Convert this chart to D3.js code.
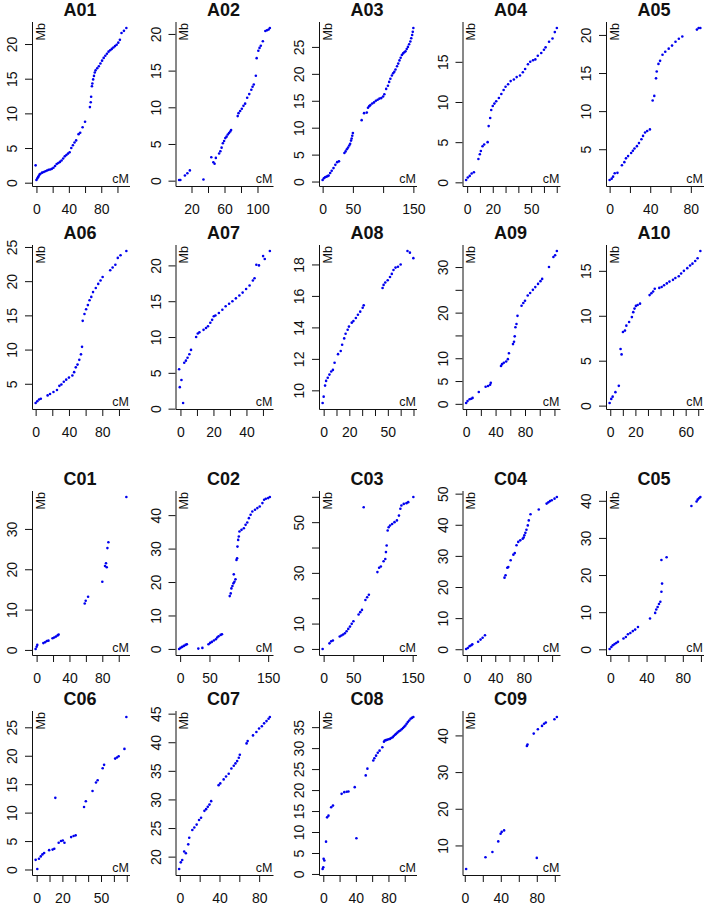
<!DOCTYPE html>
<html>
<head>
<meta charset="utf-8">
<script src="https://cdn.jsdelivr.net/npm/d3@7"></script>
<style>
  body { margin: 0; background: #fff; }
  text { font-family: "Liberation Sans", Arial, sans-serif; fill: #111; }
</style>
</head>
<body>
<div id="chart"></div>
<script>
// genetic (cM) vs physical (Mb) positions, one array per chromosome
const A01 = [[-1,2.5],[0,0.4],[1,0.6],[2,0.8],[3,1.0],[4,1.2],[5,1.3],[7,1.45],[9,1.55],[11,1.65],[13,1.75],[15,1.85],[17,1.9],[19,2.0],[21,2.15],[23,2.4],[25,2.7],[27,2.85],[29,3.0],[31,3.2],[33,3.5],[35,3.8],[37,4.0],[39,4.2],[41,4.4],[43,5.0],[45,5.4],[47,5.8],[49,6.1],[52,7.0],[54,7.2],[57,8.0],[60,8.8],[66,10.9],[67,11.6],[67.5,12.4],[68.5,13.9],[69,14.3],[70,14.9],[71,15.4],[72,15.9],[73,16.2],[75,16.5],[77,16.8],[79,17.2],[81,17.6],[83,18.0],[85,18.3],[87,18.6],[89,18.9],[91,19.1],[93,19.3],[95,19.5],[97,19.7],[99,19.9],[101,20.2],[103,20.6],[105,21.6],[108,21.9],[111,22.3]];
const A02 = [[5,0.1],[6.5,0.1],[12,0.7],[15,1.0],[18,1.4],[34.5,0.15],[44,3.2],[46.5,2.5],[48,2.3],[49.5,3.1],[53.5,3.7],[55,4.0],[56.5,4.5],[58,5.1],[59.5,5.4],[61,5.8],[62.5,6.0],[64,6.3],[65.5,6.5],[67,6.7],[68,6.9],[76,8.8],[77,9.2],[79,9.5],[81,9.8],[83,10.2],[85,10.5],[87.5,11.3],[90,11.8],[92.5,12.4],[94,12.8],[95.5,13.1],[98,14.3],[99,16.7],[101,17.7],[102.5,18.1],[104,18.4],[106.5,19.0],[109.5,20.4],[111.5,20.5],[113.5,20.6],[115,20.8]];
const A03 = [[0,0.3],[2,0.6],[4,0.8],[6,0.9],[8,1.0],[10,1.1],[12.5,1.6],[15,2.0],[18,2.5],[21,3.1],[24,3.6],[27,3.75],[36,5.3],[38,5.6],[40,6.0],[42,6.3],[44,6.7],[45.5,7.0],[47,7.6],[48,8.0],[49,8.5],[50,9.0],[64.5,11.4],[68.5,12.7],[73,12.8],[75,13.7],[77,14.0],[79,14.2],[82,14.5],[85,14.7],[88,15.0],[91,15.2],[94,15.4],[97,15.5],[100,15.8],[102,16.2],[105,17.2],[108,17.8],[110,18.5],[112,19.1],[114.5,19.7],[116.5,20.1],[118.5,20.4],[120.5,20.8],[123,21.4],[125,21.9],[127,22.5],[129,23.0],[131,23.5],[133,23.8],[135,24.0],[137,24.2],[139,24.6],[141,25.0],[143,25.5],[145,26.0],[146.5,26.6],[148,27.2],[149,27.8],[150,28.5]];
const A04 = [[-0.8,0.3],[0.5,0.6],[2,0.8],[3.5,1.1],[5.3,1.25],[8.8,2.9],[9.9,3.5],[10.7,3.9],[12,4.5],[13.3,4.7],[16,5.0],[16.8,7.0],[18,8.0],[18.8,9.0],[20,9.5],[21.3,9.8],[22.7,10.1],[24.8,10.5],[26.7,11.0],[28.5,11.5],[30,11.9],[32,12.2],[34,12.6],[36.5,12.8],[38.7,13.1],[41.3,13.3],[43.5,13.7],[45.3,14.1],[47.5,14.7],[49.3,15.0],[51.5,15.2],[53.3,15.3],[55.2,15.75],[57.9,16.1],[60,16.5],[61.3,16.8],[64,17.5],[66.7,17.9],[68.5,18.7],[70.1,19.2]];
const A05 = [[0,0.97],[2,1.14],[3.4,1.4],[5,1.84],[7.7,1.9],[12.1,2.9],[14.5,3.3],[16.1,3.8],[18.2,4.1],[21.2,4.5],[22.9,4.8],[24.5,5.1],[26.9,5.4],[28.9,5.8],[31.3,6.3],[32.9,6.75],[34.9,7.2],[37,7.4],[39.7,7.6],[42.4,11.4],[44,12.0],[45.7,14.3],[46.4,15.2],[48.1,16.2],[49.7,16.6],[52.1,17.4],[54.8,17.8],[58.2,18.2],[61.5,18.6],[64.9,19.1],[68.2,19.5],[71.6,19.8],[86,20.7],[87.7,20.9],[89.4,20.9]];
const A06 = [[0,2.2],[2,2.45],[4.1,2.7],[6.2,2.8],[14.4,3.3],[17.3,3.5],[21.4,3.8],[25.6,4.1],[28.5,4.7],[30.9,4.9],[33.8,5.3],[36.7,5.6],[40,5.9],[44.1,6.2],[46.2,6.7],[48.2,7.4],[50.3,7.8],[52.4,8.5],[54.4,9.3],[55.7,10.4],[56.5,14.2],[58.6,15.2],[60.6,15.9],[62.7,16.5],[64.7,17.2],[66.8,17.7],[68.9,18.4],[72.2,19],[75.1,19.6],[77.9,20.1],[80.4,20.6],[89.5,21.6],[92.4,22],[95.7,22.4],[98.6,23.4],[101.9,23.8],[108.9,24.4]];
const A07 = [[-0.8,5.5],[-0.4,3.0],[0.6,4.0],[1.6,0.8],[2.3,6.4],[3.3,6.7],[4.3,7.1],[5.4,7.6],[6.4,8.2],[9.5,10.0],[10.5,10.5],[11.5,10.65],[14,11.0],[15.5,11.25],[16.7,11.5],[18.1,12.0],[19.2,12.4],[20.2,12.9],[21.2,13.0],[23.3,13.35],[25.4,13.8],[27.4,14.3],[29.5,14.65],[31.5,15],[33.6,15.4],[35.7,15.8],[37.7,16.2],[39.8,16.7],[41.9,17.2],[43.9,17.9],[44.9,18.2],[46,20.1],[47.6,20.0],[50.1,21.3],[51.1,20.9],[54.2,22]];
const A08 = [[-0.8,9.2],[0,9.6],[1.1,10.3],[1.9,10.6],[3.2,10.8],[4.5,11.0],[5.9,11.2],[7.2,11.3],[8.5,11.75],[11.2,12.3],[13.3,12.5],[14.4,12.9],[16,13.3],[17.1,13.6],[18.7,13.85],[19.7,14.05],[21.9,14.3],[23.2,14.4],[25.1,14.6],[26.7,14.8],[28.5,15.0],[30.4,15.25],[31.2,15.4],[45.9,16.5],[46.7,16.7],[48,16.85],[49.9,17.0],[51.7,17.2],[53.1,17.4],[54.4,17.65],[56,17.8],[57.9,17.85],[60,18.0],[65.3,18.85],[67.2,18.75],[69.9,18.4]];
const A09 = [[0,0.2],[1.9,0.6],[4.7,1.0],[7,1.1],[8.8,1.3],[17.2,2.6],[26.5,3.75],[29.8,3.9],[32.6,4.2],[33.5,4.6],[47.4,8.3],[48.8,8.7],[51.2,9.0],[54.4,9.3],[56.7,9.8],[58.1,11.1],[63.7,13.1],[65.1,13.6],[66,14.8],[67,16.8],[68.4,17.5],[69.8,19.3],[75.3,21.5],[77.7,22.1],[80,22.6],[83.7,23.75],[87,24.3],[90.7,25],[94,25.6],[97.7,26.3],[101,26.9],[103.3,27.4],[112.6,30],[118.6,32.2],[120.9,32.6],[123.3,33.5]];
const A10 = [[-0.5,0.3],[0.8,0.75],[1.9,1.0],[4.1,1.5],[6.8,2.2],[8.2,6.3],[9,5.7],[10.1,8.2],[11.7,8.35],[12.8,8.9],[15,9.3],[17.2,9.85],[18.3,10.4],[19.3,10.8],[20.4,11.1],[21.8,11.2],[23.7,11.35],[31.3,12.3],[32.7,12.5],[34.1,12.7],[35.4,13.0],[39,13.1],[40.9,13.2],[42.8,13.4],[45,13.6],[47.1,13.8],[49.9,14.0],[51.8,14.2],[54.5,14.4],[56.4,14.7],[58.6,15.0],[61.3,15.3],[63.5,15.6],[65.4,15.8],[67.6,16.1],[69.5,16.4],[71.7,17.2]];
const C01 = [[-1.2,0.25],[0,0.8],[0.8,1.25],[8.2,1.7],[10.3,1.9],[12.4,2.2],[14.4,2.3],[19.4,2.9],[21.4,3.1],[23.5,3.3],[25.6,3.6],[26.8,3.8],[58.6,11.5],[59.8,12.2],[62.7,13.2],[80,16.9],[83.3,20.8],[84.5,21.5],[85.4,20.5],[86.2,25.25],[87.4,26.7],[109.3,37.9]];
const C02 = [[-1.7,0],[0.6,0.3],[3.4,0.6],[6.3,0.9],[9.2,1.2],[11.5,1.4],[31,0.1],[37.9,0.3],[48.3,1.4],[51.1,1.8],[54,2.1],[57.5,2.5],[60.9,2.9],[63.2,3.4],[65.5,3.8],[69,4.2],[71.3,4.4],[84.5,15.8],[86.2,16.6],[87.4,18.1],[89.1,18.8],[90.8,19.6],[92.5,20.1],[94.3,20.8],[91.4,22.3],[96,26.6],[97.1,27.1],[97.7,30.6],[98.9,32.6],[100,33.6],[101.1,35.1],[104.6,35.6],[108.6,36.1],[111.5,37.1],[114.4,37.8],[117.2,39.1],[120.1,40.1],[123,41.1],[127.6,41.6],[131.6,42.1],[135.6,42.6],[140.2,43.6],[143.1,44.6],[146,44.9],[150,45.1],[152.9,45.4]];
const C03 = [[-1.7,0],[9.8,2.2],[12.7,3.0],[15.6,3.3],[27.1,4.9],[30,5.3],[32.9,5.7],[35.8,6.2],[38.7,7.0],[41.5,7.9],[44.4,8.8],[47.3,9.9],[50.2,10.9],[58.9,13.6],[61.7,14.5],[64.6,15.4],[70.4,19.3],[73.3,20.4],[76.2,21.4],[67.5,55.9],[90.6,30.3],[93.5,32],[96.4,32.5],[101,34.6],[103.9,35.5],[105,38.2],[106.2,40.8],[107.9,46.7],[109.6,48],[111.9,48.7],[115.4,49.3],[119.4,50],[123.5,50.7],[126.9,52.6],[129.3,55.3],[131,56.6],[135,57.2],[139.6,57.5],[142.5,57.9],[151.2,59.9]];
const C04 = [[-1,0.1],[1.4,0.4],[3.9,1.0],[6.3,1.3],[7.7,1.6],[15.9,2.4],[19.3,3.1],[22.2,3.7],[25.5,4.5],[53,23],[54.5,23.8],[56.9,26.2],[58.3,26.4],[61.7,28.6],[65.5,30.4],[67.5,30.9],[69.9,33.4],[72.3,34.5],[75.2,35],[78.6,35.5],[80,35.9],[80.9,36.6],[82.4,37.4],[83.9,38.4],[85.8,39.8],[87.2,41.4],[89.6,43.4],[101.2,44.9],[112.3,46.8],[114.7,47.2],[117.1,47.6],[119.5,47.9],[123.4,48.4],[126.7,48.9]];
const C05 = [[-0.8,0.1],[1.1,0.6],[2.7,1.1],[4.6,1.4],[6.5,1.7],[8.4,2.0],[14.5,2.9],[17.1,3.3],[19.4,4.05],[22.1,4.4],[24.8,4.9],[27.4,5.3],[30.5,6.0],[43.8,8.3],[49.5,9.8],[50.7,10.7],[52.2,11.4],[53.7,12.2],[55.2,12.8],[56.4,15.5],[57.1,17.7],[56.4,24.05],[62.1,24.8],[89.5,38.6],[95.2,39.8],[96.4,40.3],[97.9,40.7],[99.4,41]];
const C06 = [[-0.8,1.7],[0.5,0.1],[1.8,1.9],[3.2,2.3],[4.5,2.65],[5.8,2.9],[9.7,3.4],[12.4,3.5],[13.7,3.65],[14.5,12.6],[17.1,4.7],[18.9,5.0],[20.3,5.1],[21.6,4.7],[26.8,5.7],[28.7,5.9],[30.3,6.0],[36.8,11],[38.2,12.0],[43.4,13.8],[46.1,15.3],[47.4,15.7],[51.3,17.8],[52.4,18.4],[61,19.5],[62.4,19.7],[63.7,19.9],[68.2,21.2],[69.7,26.8]];
const C07 = [[-0.7,17.85],[1,19],[2.4,19.4],[4.4,20.9],[6.1,20.6],[8.5,22.15],[9.5,23.3],[12.6,24.65],[14.6,25.1],[17,25.6],[19.4,26.4],[21.4,26.8],[24.8,28],[26.5,28.3],[28.2,28.7],[29.9,29.1],[31.6,29.7],[39.1,32.5],[40.8,32.8],[44.2,33.5],[46.6,34],[49.3,34.5],[52,35.4],[54.4,35.9],[56.1,36.3],[57.8,36.7],[59.5,37.3],[60.5,37.8],[67.3,39.8],[68.4,40.2],[73.8,41.2],[77.2,41.8],[79.9,42.4],[82.7,42.8],[85,43.3],[87.4,43.7],[89.5,44.1],[90.8,44.4]];
const C08 = [[-0.8,1.2],[0,1.6],[0.4,3.6],[1.3,3.2],[3.4,7.7],[4.7,13.5],[6.4,13.9],[9.7,15.9],[11.9,16.3],[22.5,19.1],[25.8,19.5],[28.8,19.6],[30.9,19.65],[38.6,20.7],[40.7,8.5],[52.1,23.5],[54.2,25.1],[61.4,27.05],[62.7,27.6],[64.8,28.2],[66.9,28.9],[69.1,29.4],[72.5,30.2],[74.5,31.5],[75.5,31.8],[77,31.9],[78.4,32],[80,32.1],[81.8,32.2],[83.5,32.4],[85.2,32.6],[86.5,32.9],[88.1,33.2],[89.5,33.4],[91.1,33.7],[92.8,34.0],[94.5,34.2],[96.2,34.5],[97.9,34.8],[99.4,35.1],[100.8,35.4],[102.3,35.8],[103.8,36.2],[105.5,36.6],[107.2,37],[108.8,37.2],[110.6,37.4]];
const C09 = [[1.5,3.6],[23,6.8],[30.7,8.2],[37.2,11.1],[39.8,13.2],[41,13.7],[43.7,14.1],[69,37.1],[69.7,37.5],[76.6,40.5],[80,6.6],[81.2,41.7],[85.8,42.6],[88.1,43.2],[90,43.5],[99.6,44.4],[102.3,45]];

// axis ticks (xt/yt) and which of them carry a label (xl/yl)
const panels = [
  { name: "A01", pts: A01, xt: [0,20,40,60,80,100], xl: [0,40,80], yt: [0,5,10,15,20], yl: [0,5,10,15,20] },
  { name: "A02", pts: A02, xt: [20,40,60,80,100], xl: [20,60,100], yt: [0,5,10,15,20], yl: [0,5,10,15,20] },
  { name: "A03", pts: A03, xt: [0,50,100,150], xl: [0,50,150], yt: [0,5,10,15,20,25], yl: [0,5,10,15,20,25] },
  { name: "A04", pts: A04, xt: [0,10,20,30,40,50,60,70], xl: [0,20,50], yt: [0,5,10,15], yl: [0,5,10,15] },
  { name: "A05", pts: A05, xt: [0,20,40,60,80], xl: [0,40,80], yt: [5,10,15,20], yl: [5,10,15,20] },
  { name: "A06", pts: A06, xt: [0,20,40,60,80,100], xl: [0,40,80], yt: [5,10,15,20,25], yl: [5,10,15,20,25] },
  { name: "A07", pts: A07, xt: [0,10,20,30,40,50], xl: [0,20,40], yt: [0,5,10,15,20], yl: [0,5,10,15,20] },
  { name: "A08", pts: A08, xt: [0,10,20,30,40,50,60,70], xl: [0,20,50], yt: [10,12,14,16,18], yl: [10,12,14,16,18] },
  { name: "A09", pts: A09, xt: [0,20,40,60,80,100,120], xl: [0,40,80], yt: [0,5,10,15,20,25,30], yl: [0,5,10,20,30] },
  { name: "A10", pts: A10, xt: [0,10,20,30,40,50,60,70], xl: [0,20,60], yt: [0,5,10,15], yl: [0,5,10,15] },
  { name: "C01", pts: C01, xt: [0,20,40,60,80,100], xl: [0,40,80], yt: [0,10,20,30], yl: [0,10,20,30] },
  { name: "C02", pts: C02, xt: [0,50,100,150], xl: [0,50,150], yt: [0,10,20,30,40], yl: [0,10,20,30,40] },
  { name: "C03", pts: C03, xt: [0,50,100,150], xl: [0,50,150], yt: [0,10,20,30,40,50,60], yl: [0,10,30,50] },
  { name: "C04", pts: C04, xt: [0,20,40,60,80,100,120], xl: [0,40,80], yt: [0,10,20,30,40,50], yl: [0,10,20,30,40,50] },
  { name: "C05", pts: C05, xt: [0,20,40,60,80,100], xl: [0,40,80], yt: [0,10,20,30,40], yl: [0,10,20,30,40] },
  { name: "C06", pts: C06, xt: [0,10,20,30,40,50,60,70], xl: [0,20,50], yt: [0,5,10,15,20,25], yl: [0,5,10,15,20,25] },
  { name: "C07", pts: C07, xt: [0,20,40,60,80], xl: [0,40,80], yt: [20,25,30,35,40,45], yl: [20,25,30,35,40,45] },
  { name: "C08", pts: C08, xt: [0,20,40,60,80,100], xl: [0,40,80], yt: [0,5,10,15,20,25,30,35], yl: [0,5,10,15,20,25,30,35] },
  { name: "C09", pts: C09, xt: [0,20,40,60,80,100], xl: [0,40,80], yt: [10,20,30,40], yl: [10,20,30,40] }
];

const width = 708, height = 908;
const W = 98, H = 164;
const colX = [32, 175.5, 319, 462.5, 606];
const rowY = [22, 245, 491, 711];

const svg = d3.select('#chart').append('svg')
  .attr('width', width).attr('height', height)
  .style('background', '#fff');

// R style 4% padding round the data range
const pad = (ext) => {
  const r = ext[1] - ext[0];
  return [ext[0] - r * 0.04, ext[1] + r * 0.04];
};

panels.forEach((p, i) => {
  const group = i < 10 ? 0 : 1;
  const k = i < 10 ? i : i - 10;
  const row = group * 2 + Math.floor(k / 5);
  const col = k % 5;
  const L = colX[col], T = rowY[row];

  const x = d3.scaleLinear().domain(pad(d3.extent(p.pts, d => d[0]))).range([L, L + W]);
  const y = d3.scaleLinear().domain(pad(d3.extent(p.pts, d => d[1]))).range([T + H, T]);
  const inX = v => v >= x.domain()[0] && v <= x.domain()[1];
  const inY = v => v >= y.domain()[0] && v <= y.domain()[1];

  const g = svg.append('g');

  // title
  g.append('text')
    .attr('x', L + W / 2 - 1).attr('y', T - 6)
    .attr('text-anchor', 'middle')
    .style('font-size', '18px').style('font-weight', 'bold')
    .text(p.name);

  // x axis
  const xa = g.append('g')
    .attr('transform', `translate(0,${T + H})`)
    .call(d3.axisBottom(x)
      .tickValues(p.xt.filter(inX))
      .tickSize(7).tickSizeOuter(0).tickPadding(11)
      .tickFormat(d => p.xl.includes(d) ? d : ''));
  xa.select('.domain').remove();
  xa.selectAll('line').attr('stroke', '#111');
  xa.selectAll('text').style('font-size', '14px').attr('fill', '#111')
    .style('font-family', '"Liberation Sans", Arial, sans-serif');

  // y axis, labels turned parallel to the axis
  const ya = g.append('g')
    .attr('transform', `translate(${L},0)`)
    .call(d3.axisLeft(y)
      .tickValues(p.yt.filter(inY))
      .tickSize(7).tickSizeOuter(0)
      .tickFormat(d => p.yl.includes(d) ? d : ''));
  ya.select('.domain').remove();
  ya.selectAll('line').attr('stroke', '#111');
  ya.selectAll('text')
    .attr('x', null).attr('dy', null)
    .attr('transform', 'translate(-15,0) rotate(-90)')
    .attr('text-anchor', 'middle').attr('fill', '#111')
    .style('font-size', '14px')
    .style('font-family', '"Liberation Sans", Arial, sans-serif');

  // L-shaped box
  g.append('path')
    .attr('d', `M${L + 0.5},${T}V${T + H + 0.5}H${L + W}`)
    .attr('fill', 'none').attr('stroke', '#111').attr('stroke-width', 1);

  // corner labels
  g.append('text')
    .attr('transform', `translate(${L + 12.5},${T + 1}) rotate(-90)`)
    .attr('text-anchor', 'end')
    .style('font-size', '12.5px')
    .text('Mb');
  g.append('text')
    .attr('x', L + W - 1).attr('y', T + H - 3)
    .attr('text-anchor', 'end')
    .style('font-size', '12.5px')
    .text('cM');

  // markers
  g.append('g').selectAll('circle')
    .data(p.pts)
    .join('circle')
    .attr('cx', d => x(d[0]))
    .attr('cy', d => y(d[1]))
    .attr('r', 1.3)
    .attr('fill', '#0000ee');
});
</script>
</body>
</html>
